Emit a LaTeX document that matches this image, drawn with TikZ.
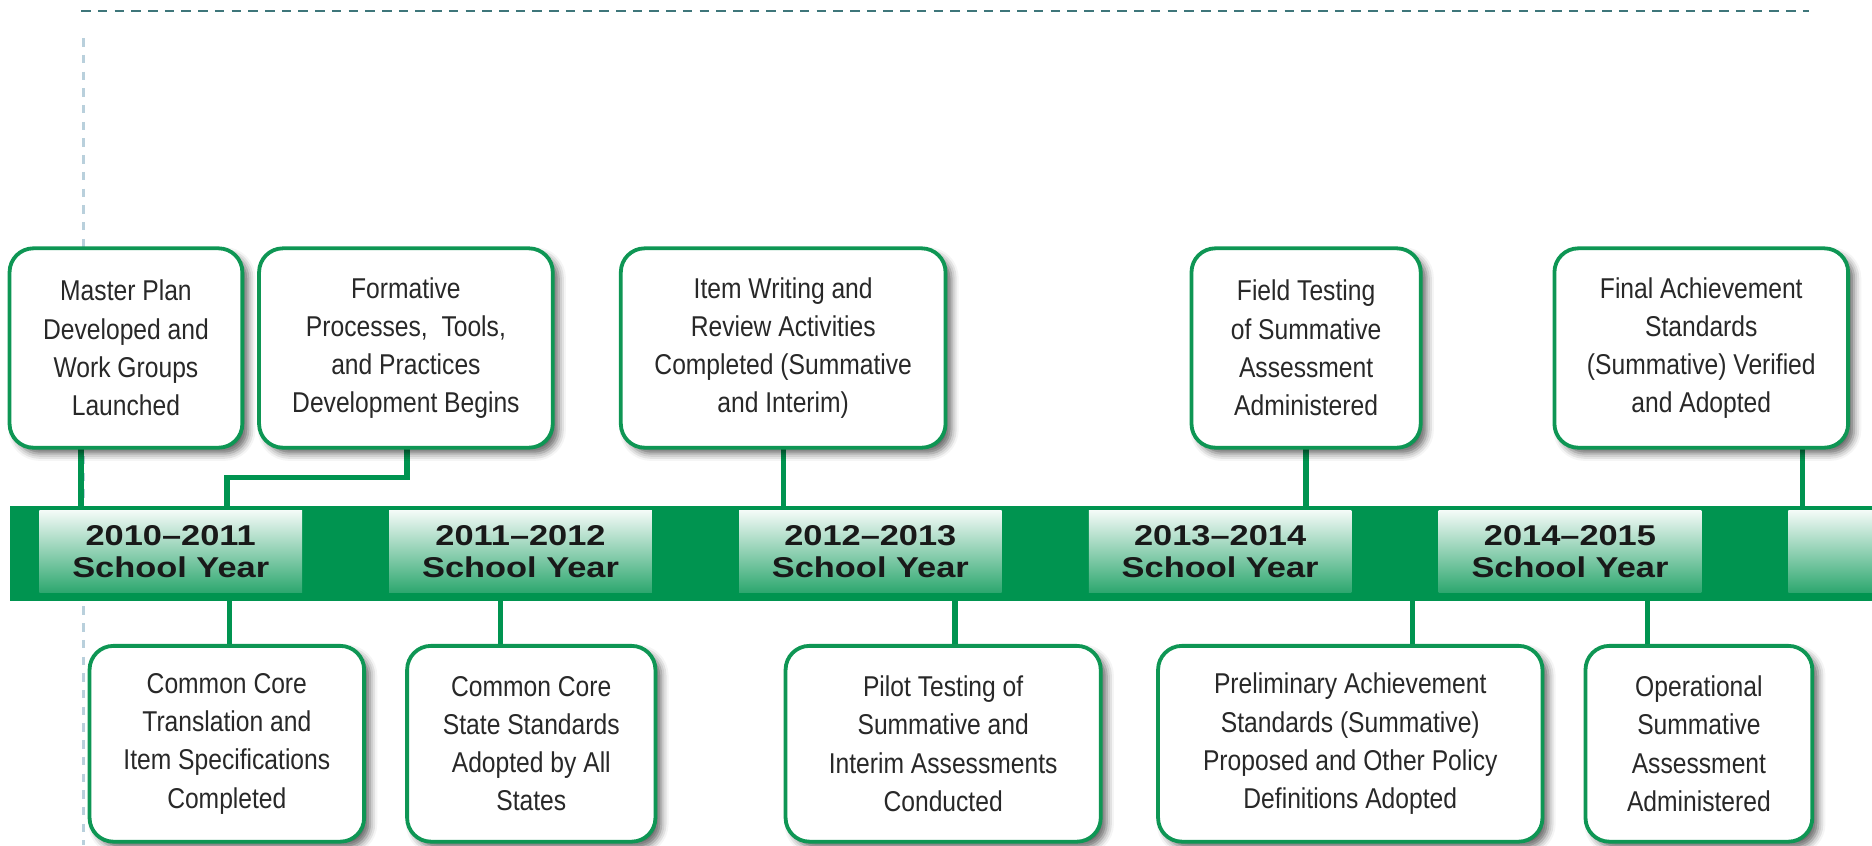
\documentclass[tikz,border=0pt]{standalone}
\usepackage{fontspec}
\newfontfamily\bodyfont[FakeStretch=0.86]{Liberation Sans}
\newfontfamily\yearfont[FakeStretch=1.2]{Liberation Sans}
\usetikzlibrary{shadows.blur}
\definecolor{tlgreen}{RGB}{0,148,80}
\definecolor{boxgreen}{RGB}{14,150,84}
\definecolor{txtgray}{RGB}{40,40,40}
\definecolor{topdash}{RGB}{62,118,122}
\definecolor{sidedash}{RGB}{185,208,220}
\begin{document}
\begin{tikzpicture}[x=1pt,y=-1pt,
  evbox/.style={draw=boxgreen, line width=3.2pt, rounded corners=20pt, fill=white,
    align=center, inner sep=0pt, text=txtgray,
    font=\bodyfont\fontsize{24}{32}\selectfont,
    blur shadow={shadow xshift=5pt, shadow yshift=-5pt, shadow blur radius=6pt, shadow opacity=60}},
  topbox/.style={evbox, minimum height=167pt},
  botbox/.style={evbox, minimum height=164pt},
  anchorbox/.style={minimum height=#1, inner sep=0pt, draw=none, fill=none},
  yearbox/.style={minimum width=220pt, minimum height=68pt, inner sep=0pt,
    top color=tlgreen!5, bottom color=tlgreen!82, align=center, text=black!90,
    font=\yearfont\bfseries\fontsize{24}{27}\selectfont},
  conn/.style={draw=tlgreen, line width=4.5pt},
]
\useasboundingbox (0,0) rectangle (1568,708);
% dashed guide lines
\draw[topdash, line width=2pt, dash pattern=on 8pt off 6pt] (68,9) -- (1515,9);
\draw[sidedash, line width=2pt, dash pattern=on 7pt off 7pt] (70,32) -- (70,708);

% connector end points on the bar
\coordinate (b1) at (68,424);
\coordinate (k2) at (341,400);
\coordinate (b2) at (190,424);
\coordinate (b3) at (656,424);
\coordinate (b4) at (1094,424);
\coordinate (b5) at (1510,424);
\coordinate (d1) at (192,503);
\coordinate (d2) at (419,503);
\coordinate (d3) at (800,503);
\coordinate (d4) at (1183,503);
\coordinate (d5) at (1380,503);

% invisible placeholders giving the box outlines (for connector ends)
\node[anchorbox=167pt, minimum width=195pt] (T1) at (105.5,291.5) {};
\node[anchorbox=167pt, minimum width=246pt] (T2) at (340,291.5) {};
\node[anchorbox=167pt, minimum width=272pt] (T3) at (656,291.5) {};
\node[anchorbox=167pt, minimum width=192pt] (T4) at (1094,291.5) {};
\node[anchorbox=167pt, minimum width=246pt] (T5) at (1425,291.5) {};
\node[anchorbox=164pt, minimum width=230pt] (B1) at (190,623) {};
\node[anchorbox=164pt, minimum width=208pt] (B2) at (445,623) {};
\node[anchorbox=164pt, minimum width=264pt] (B3) at (790,623) {};
\node[anchorbox=164pt, minimum width=322pt] (B4) at (1131,623) {};
\node[anchorbox=164pt, minimum width=190pt] (B5) at (1423,623) {};

% connectors
\draw[conn] (T1.south -| b1) -- (b1);
\draw[conn] (T2.south -| k2) -- (k2) -- (k2 -| b2) -- (b2);
\draw[conn] (T3.south -| b3) -- (b3);
\draw[conn] (T4.south -| b4) -- (b4);
\draw[conn] (T5.south -| b5) -- (b5);
\draw[conn] (d1) -- (B1.north -| d1);
\draw[conn] (d2) -- (B2.north -| d2);
\draw[conn] (d3) -- (B3.north -| d3);
\draw[conn] (d4) -- (B4.north -| d4);
\draw[conn] (d5) -- (B5.north -| d5);

% timeline bar
\fill[tlgreen] (8,424) rectangle (1575,503);
\node[yearbox] (y1) at (143,462) {2010–2011\\School Year};
\node[yearbox] (y2) at (436,462) {2011–2012\\School Year};
\node[yearbox] (y3) at (729,462) {2012–2013\\School Year};
\node[yearbox] (y4) at (1022,462) {2013–2014\\School Year};
\node[yearbox] (y5) at (1315,462) {2014–2015\\School Year};
\node[yearbox] (y6) at (1608,462) {};

% visible event boxes
\node[topbox, minimum width=195pt] (T1v) at (T1) {Master Plan\\Developed and\\Work Groups\\Launched};
\node[topbox, minimum width=246pt] (T2v) at (T2) {Formative\\Processes,\ \ Tools,\\and Practices\\Development Begins};
\node[topbox, minimum width=272pt] (T3v) at (T3) {Item Writing and\\Review Activities\\Completed (Summative\\and Interim)};
\node[topbox, minimum width=192pt] (T4v) at (T4) {Field Testing\\of Summative\\Assessment\\Administered};
\node[topbox, minimum width=246pt] (T5v) at (T5) {Final Achievement\\Standards\\(Summative) Verified\\and Adopted};
\node[botbox, minimum width=230pt] (B1v) at (B1) {Common Core\\Translation and\\Item Specifications\\Completed};
\node[botbox, minimum width=208pt] (B2v) at (B2) {Common Core\\State Standards\\Adopted by All\\States};
\node[botbox, minimum width=264pt] (B3v) at (B3) {Pilot Testing of\\Summative and\\Interim Assessments\\Conducted};
\node[botbox, minimum width=322pt] (B4v) at (B4) {Preliminary Achievement\\Standards (Summative)\\Proposed and Other Policy\\Definitions Adopted};
\node[botbox, minimum width=190pt] (B5v) at (B5) {Operational\\Summative\\Assessment\\Administered};
\end{tikzpicture}
\end{document}
